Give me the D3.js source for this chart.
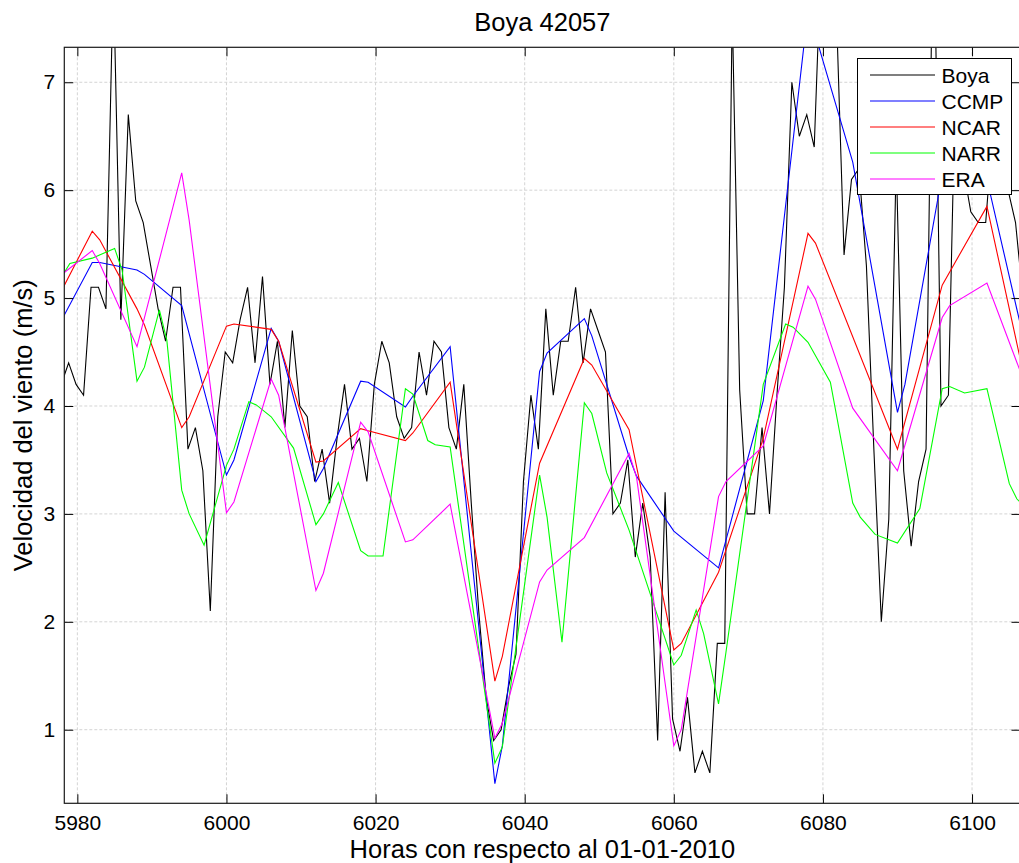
<!DOCTYPE html>
<html>
<head>
<meta charset="utf-8">
<script src="https://cdn.jsdelivr.net/npm/d3@7"></script>
<style>
  body { margin: 0; background: #fff; }
  text { font-family: "Liberation Sans", Arial, Helvetica, sans-serif; fill: #000; }
</style>
</head>
<body>
<svg id="chart" width="1019" height="863"></svg>
<script>
// Hourly buoy record: first report at hour 5978 (observations taken at :50)
const boyaStart = 5978;
const boyaSpeed = [
  4.2, 4.4, 4.2, 4.1, 5.1, 5.1, 4.9, 8.0, 4.8, 6.7,   // 5978-5987
  5.9, 5.7, 5.3, 4.9, 4.6, 5.1, 5.1, 3.6, 3.8, 3.4,   // 5988-5997
  2.1, 3.9, 4.5, 4.4, 4.8, 5.1, 4.4, 5.2, 4.2, 4.6,   // 5998-6007
  3.8, 4.7, 4.0, 3.9, 3.3, 3.6, 3.1, 3.7, 4.2, 3.6,   // 6008-6017
  3.7, 3.3, 4.2, 4.6, 4.4, 3.9, 3.7, 3.8, 4.5, 4.1,   // 6018-6027
  4.6, 4.5, 3.8, 3.6, 4.2, 3.1, 2.1, 1.3, 0.9, 1.0,   // 6028-6037
  1.4, 1.7, 3.3, 4.1, 3.6, 4.9, 4.1, 4.6, 4.6, 5.1,   // 6038-6047
  4.4, 4.9, 4.7, 4.5, 3.0, 3.1, 3.5, 2.6, 3.1, 2.6,   // 6048-6057
  0.9, 3.2, 1.1, 0.8, 1.3, 0.6, 0.8, 0.6, 1.8, 1.8,   // 6058-6067
  7.7, 4.15, 3.0, 3.0, 3.8, 3.0, 4.1, 5.1, 7.0, 6.5,  // 6068-6077
  6.7, 6.4, 8.3, 8.2, 7.6, 5.4, 6.1, 6.2, 5.3, 3.6,   // 6078-6087
  2.0, 2.95, 6.3, 3.4, 2.7, 3.3, 3.6, 8.9, 4.0, 4.1,  // 6088-6097
  7.2, 6.2, 5.8, 5.7, 5.7, 6.6, 6.3, 6.0, 5.7, 5.0    // 6098-6107
];

// CCMP analysis
const ccmpHours = [5977, 5982, 5983, 5988, 5989, 5994, 6000, 6001, 6006, 6007, 6012, 6013,
  6018, 6019, 6024, 6025, 6030, 6036, 6037, 6042, 6043, 6048, 6049, 6054, 6055, 6060,
  6066, 6072, 6078, 6084, 6090, 6091, 6096, 6097, 6102, 6108];
const ccmpSpeed = [4.68, 5.33, 5.33, 5.26, 5.22, 4.93, 3.36, 3.50, 4.72, 4.60, 3.30, 3.42,
  4.23, 4.22, 3.99, 4.09, 4.55, 0.50, 0.85, 4.32, 4.49, 4.81, 4.65, 3.53, 3.35, 2.84,
  2.50, 4.05, 7.67, 6.26, 3.94, 4.20, 6.15, 6.20, 6.10, 4.30];

// NCAR reanalysis
const ncarHours = [5977, 5982, 5983, 5988, 5989, 5994, 5995, 6000, 6001, 6006, 6007, 6012, 6013,
  6018, 6019, 6024, 6025, 6030, 6036, 6037, 6042, 6048, 6049, 6054, 6060, 6061,
  6066, 6072, 6078, 6079, 6090, 6096, 6102, 6108];
const ncarSpeed = [4.95, 5.62, 5.54, 4.90, 4.75, 3.80, 3.90, 4.74, 4.76, 4.71, 4.60, 3.48, 3.49,
  3.79, 3.77, 3.68, 3.75, 4.22, 1.45, 1.68, 3.47, 4.44, 4.38, 3.78, 1.74, 1.80,
  2.46, 3.70, 5.60, 5.51, 3.60, 5.12, 5.85, 3.95];

// NARR reanalysis (3-hourly)
const narrHours = [5978, 5979, 5982, 5985, 5986, 5988, 5989, 5991, 5992, 5994, 5995, 5997,
  6000, 6001, 6003, 6004, 6006, 6009, 6012, 6013, 6015, 6018, 6019, 6021, 6024, 6025,
  6027, 6028, 6030, 6036, 6037, 6042, 6043, 6045, 6048, 6049, 6051, 6054, 6060, 6061,
  6063, 6064, 6066, 6067, 6072, 6075, 6076, 6078, 6081, 6084, 6085, 6087, 6090, 6093,
  6096, 6097, 6099, 6102, 6105, 6106, 6108];
const narrSpeed = [5.21, 5.32, 5.37, 5.46, 5.26, 4.23, 4.36, 4.89, 4.61, 3.22, 3.00, 2.71,
  3.45, 3.60, 4.04, 4.01, 3.90, 3.61, 2.90, 3.00, 3.29, 2.66, 2.61, 2.61, 4.16, 4.11,
  3.68, 3.64, 3.62, 0.69, 0.84, 3.36, 2.97, 1.81, 4.03, 3.93, 3.38, 2.85, 1.60, 1.69,
  2.11, 1.89, 1.24, 1.72, 4.20, 4.76, 4.73, 4.59, 4.22, 3.10, 2.97, 2.81, 2.73, 3.05,
  4.16, 4.18, 4.12, 4.16, 3.28, 3.14, 3.00];

// ERA-Interim reanalysis
const eraHours = [5977, 5982, 5983, 5988, 5994, 5995, 6000, 6001, 6006, 6007, 6012, 6013,
  6018, 6019, 6024, 6025, 6030, 6036, 6037, 6042, 6043, 6048, 6054, 6055, 6060, 6061,
  6066, 6067, 6072, 6078, 6079, 6084, 6090, 6096, 6097, 6102, 6108];
const eraSpeed = [5.17, 5.44, 5.32, 4.55, 6.16, 5.72, 3.01, 3.11, 4.25, 4.10, 2.29, 2.45,
  3.85, 3.76, 2.74, 2.76, 3.09, 0.92, 1.06, 2.37, 2.48, 2.78, 3.56, 3.34, 0.85, 1.00,
  3.16, 3.30, 3.63, 5.11, 4.99, 3.98, 3.40, 4.82, 4.93, 5.14, 4.04];

const xTicks = [5980, 6000, 6020, 6040, 6060, 6080, 6100];
const yTicks = [1, 2, 3, 4, 5, 6, 7];
const seriesNames = ["Boya", "CCMP", "NCAR", "NARR", "ERA"];
const seriesColors = ["#000000", "#0000ff", "#ff0000", "#00ff00", "#ff00ff"];

const titleText = "Boya 42057";
const xLabel = "Horas con respecto al 01-01-2010";
const yLabel = "Velocidad del viento (m/s)";

// ---- layout ----
const plot = { left: 64.3, right: 1020.5, top: 47.3, bottom: 803.3 };
const tickLen = 9;

const svg = d3.select("#chart");

const x = d3.scaleLinear().domain([5978.25, 6106.5]).range([plot.left, plot.right]);
const y = d3.scaleLinear().domain([0.318, 7.324]).range([plot.bottom, plot.top]);

svg.append("defs").append("clipPath").attr("id", "plotClip")
  .append("rect")
  .attr("x", plot.left).attr("y", plot.top)
  .attr("width", plot.right - plot.left).attr("height", plot.bottom - plot.top);

// grid
const grid = svg.append("g").attr("class", "grid")
  .attr("stroke", "#d4d4d4").attr("stroke-width", 1).attr("stroke-dasharray", "3,2");
grid.selectAll("line.gx").data(xTicks).join("line").attr("class", "gx")
  .attr("x1", d => x(d)).attr("x2", d => x(d))
  .attr("y1", plot.top).attr("y2", plot.bottom);
grid.selectAll("line.gy").data(yTicks).join("line").attr("class", "gy")
  .attr("x1", plot.left).attr("x2", plot.right)
  .attr("y1", d => y(d)).attr("y2", d => y(d));

// series
const boyaPoints = boyaSpeed.map((v, i) => [boyaStart + i - 1 / 6, v]);
const zipPts = (hs, vs) => hs.map((h, i) => [h, vs[i]]);
const allSeries = [
  boyaPoints,
  zipPts(ccmpHours, ccmpSpeed),
  zipPts(ncarHours, ncarSpeed),
  zipPts(narrHours, narrSpeed),
  zipPts(eraHours, eraSpeed)
];

const line = d3.line().x(d => x(d[0])).y(d => y(d[1]));
const lines = svg.append("g").attr("clip-path", "url(#plotClip)");
lines.selectAll("path").data(allSeries).join("path")
  .attr("d", line)
  .attr("fill", "none")
  .attr("stroke", (d, i) => seriesColors[i])
  .attr("stroke-width", 1.1)
  .attr("stroke-linejoin", "miter");

// axes (inward ticks on all four sides)
const fmt = d3.format("d");
const axisG = svg.append("g");
axisG.append("g").attr("transform", `translate(0,${plot.bottom})`)
  .call(d3.axisBottom(x).tickValues(xTicks).tickFormat(fmt).tickSizeInner(-tickLen).tickSizeOuter(0).tickPadding(12));
axisG.append("g").attr("transform", `translate(0,${plot.top})`)
  .call(d3.axisTop(x).tickValues(xTicks).tickFormat("").tickSizeInner(-tickLen).tickSizeOuter(0));
axisG.append("g").attr("transform", `translate(${plot.left},0)`)
  .call(d3.axisLeft(y).tickValues(yTicks).tickFormat(fmt).tickSizeInner(-tickLen).tickSizeOuter(0).tickPadding(9));
axisG.append("g").attr("transform", `translate(${plot.right},0)`)
  .call(d3.axisRight(y).tickValues(yTicks).tickFormat("").tickSizeInner(-tickLen).tickSizeOuter(0));
axisG.selectAll(".domain").remove();
axisG.selectAll(".tick line").attr("stroke", "#000").attr("stroke-width", 1);
axisG.selectAll(".tick text")
  .attr("font-size", 21)
  .attr("font-family", "'Liberation Sans', Arial, sans-serif")
  .attr("fill", "#000");

svg.append("rect")
  .attr("x", plot.left).attr("y", plot.top)
  .attr("width", plot.right - plot.left).attr("height", plot.bottom - plot.top)
  .attr("fill", "none").attr("stroke", "#1a1a1a").attr("stroke-width", 1.2);

// titles
const cx = (plot.left + plot.right) / 2;
svg.append("text").attr("x", cx).attr("y", 30.5)
  .attr("text-anchor", "middle").attr("font-size", 25.5).text(titleText);
svg.append("text").attr("x", cx).attr("y", 858)
  .attr("text-anchor", "middle").attr("font-size", 25.5).text(xLabel);
svg.append("text")
  .attr("transform", `translate(32,${(plot.top + plot.bottom) / 2}) rotate(-90)`)
  .attr("text-anchor", "middle").attr("font-size", 25.5).text(yLabel);

// legend
const lg = { x: 857.5, y: 58.5, w: 154, h: 136 };
const legend = svg.append("g");
legend.append("rect")
  .attr("x", lg.x).attr("y", lg.y).attr("width", lg.w).attr("height", lg.h)
  .attr("fill", "#fff").attr("stroke", "#000").attr("stroke-width", 1);
const rowY = d3.scalePoint().domain(seriesNames).range([75, 179]);
const rows = legend.selectAll("g.row").data(seriesNames).join("g").attr("class", "row");
rows.append("line")
  .attr("x1", 870).attr("x2", 935)
  .attr("y1", d => rowY(d)).attr("y2", d => rowY(d))
  .attr("stroke", (d, i) => seriesColors[i]).attr("stroke-width", 1.1);
rows.append("text")
  .attr("x", 941.5).attr("y", d => rowY(d) + 7.5)
  .attr("font-size", 21).text(d => d);
</script>
</body>
</html>
